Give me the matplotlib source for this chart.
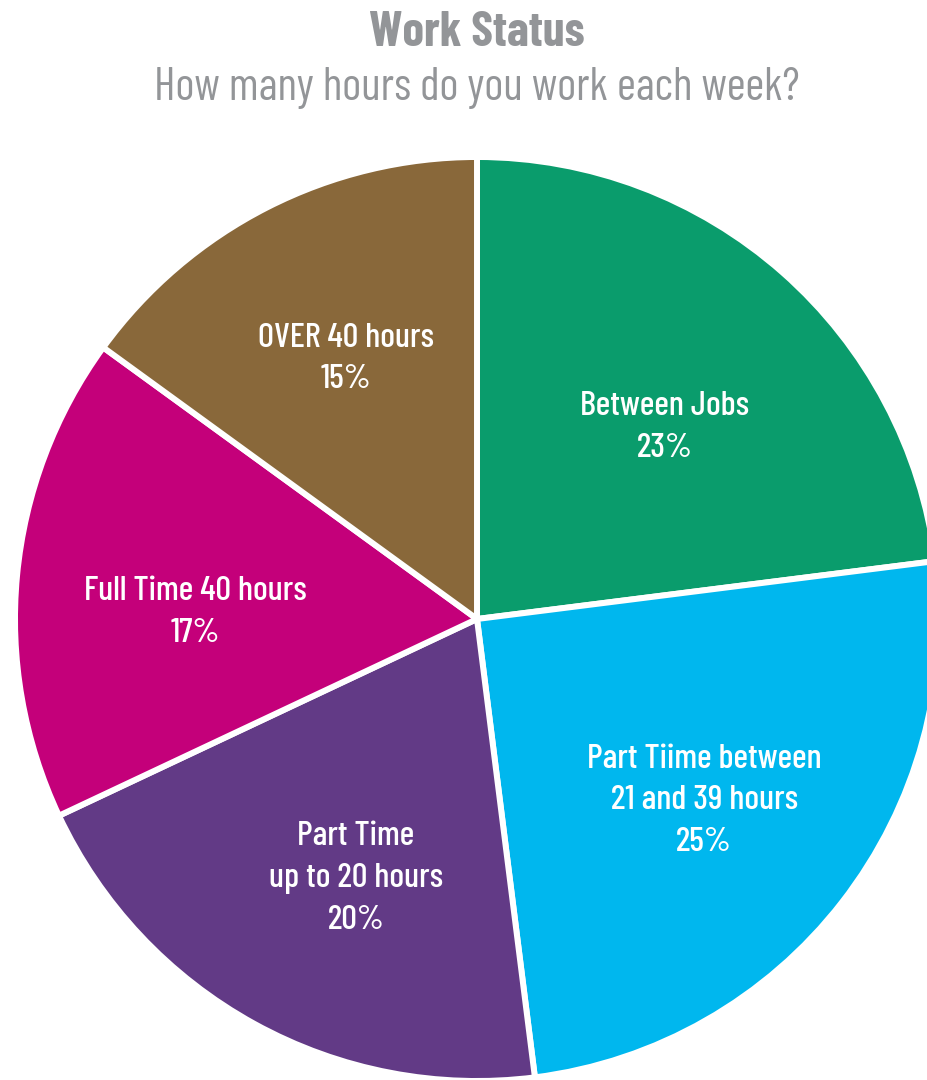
import numpy as np
import matplotlib.pyplot as plt

# --- dati ---
categories = ['Between Jobs', 'Part Tiime between\n21 and 39 hours', 'Part Time\nup to 20 hours',
              'Full Time 40 hours', 'OVER 40 hours']
shares = [23, 25, 20, 17, 15]
colors = ['#0A9C6C', '#00B7EE', '#623A86', '#C4007A', '#89683A']

title = 'Work Status'
subtitle = 'How many hours do you work each week?'

# posizione etichette: distanza dal centro (in raggi) e scarto angolare (gradi)
label_r = [0.58, 0.63, 0.62, 0.61, 0.63]
label_dtheta = [-3.0, -0.9, 3.8, 4.0, -0.3]

plt.rcParams['font.family'] = ['Barlow Condensed', 'Roboto Condensed', 'DejaVu Sans']

W, H = 927, 1080
cx, cy, R = 477, 619, 462   # centro e raggio in pixel

fig = plt.figure(figsize=(W / 100, H / 100), dpi=100)
ax = fig.add_axes([0, 0, 1, 1])

wedges, _ = ax.pie(shares, colors=colors, startangle=90, counterclock=False,
                   wedgeprops=dict(edgecolor='white', linewidth=4.3))

for w, c, s, r, dt in zip(wedges, categories, shares, label_r, label_dtheta):
    mid = np.deg2rad((w.theta1 + w.theta2) / 2 + dt)
    ax.text(r * np.cos(mid), r * np.sin(mid), f'{c}\n{s}%', ha='center', va='center',
            color='white', fontsize=25, fontweight='medium', linespacing=1.45)

ax.set_xlim(-cx / R, (W - cx) / R)
ax.set_ylim(-(H - cy) / R, cy / R)
ax.set_aspect('auto')
ax.axis('off')

fig.text(cx / W, 1 - 33 / H, title, ha='center', va='center', fontsize=35,
         fontweight='bold', color='#939598')
fig.text(cx / W, 1 - 88 / H, subtitle, ha='center', va='center', fontsize=33,
         color='#939598')

fig.savefig('out.png', dpi=100, facecolor='white')
